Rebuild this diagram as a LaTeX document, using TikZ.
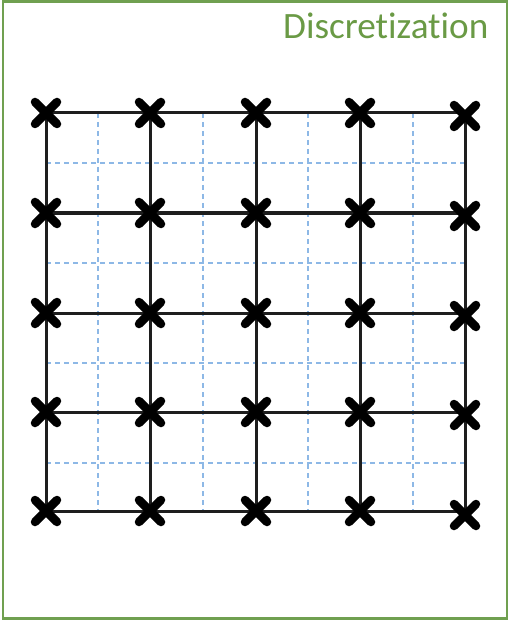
\documentclass[tikz,border=0pt]{standalone}
\usepackage{fontspec}
\setmainfont[Ligatures={NoCommon,NoRare}]{Carlito}
\usetikzlibrary{calc}
\definecolor{frameg}{HTML}{70A050}
\definecolor{titleg}{HTML}{6A9A45}
\definecolor{dashb}{HTML}{8DB8E6}
\definecolor{gridk}{HTML}{1E1E1E}
\tikzset{
  frame/.style={draw=frameg, line width=2.6pt},
  fine/.style={draw=dashb, line width=1.3pt, dash pattern=on 5pt off 4pt},
  coarse/.style={draw=gridk, line width=3pt},
  xarm/.style={draw=black, line width=8.5pt, line cap=round},
}
\begin{document}
\begin{tikzpicture}[x=1pt,y=-1pt]
\useasboundingbox (0,0) rectangle (510,620);
\draw[frame] (3,1.5) rectangle (507,618.5);
\node[anchor=base west, inner sep=0pt, text=titleg, font=\fontsize{37.2}{40}\selectfont] (title) at (283,38.5) {Discretization};
% fine dashed grid
\foreach \x in {98,203,308,413} {
  \draw[fine] (\x,113) -- (\x,511);
}
\foreach \y in {163,263,363,463} {
  \draw[fine] (46,\y) -- (465,\y);
}
% coarse solid grid
\foreach \y in {113,213,313,412,511} {
  \draw[coarse] (46,\y) -- (465,\y);
}
\foreach \x in {46,150,256,360,465} {
  \draw[coarse] (\x,113) -- (\x,511);
}
% crosses
\foreach \x [count=\i] in {46,150,256,360} {
  \foreach \y [count=\j] in {113,213,313,412,511} {
    \coordinate (c\i\j) at (\x,\y);
    \draw[xarm] ($(c\i\j)+(-11,-11)$) -- ($(c\i\j)+(11,11)$);
    \draw[xarm] ($(c\i\j)+(-11,11)$) -- ($(c\i\j)+(11,-11)$);
  }
}
\foreach \y [count=\j] in {116,216,316,415,515} {
  \coordinate (c5\j) at (465,\y);
  \draw[xarm] ($(c5\j)+(-11,-11)$) -- ($(c5\j)+(11,11)$);
  \draw[xarm] ($(c5\j)+(-11,11)$) -- ($(c5\j)+(11,-11)$);
}
\end{tikzpicture}
\end{document}
